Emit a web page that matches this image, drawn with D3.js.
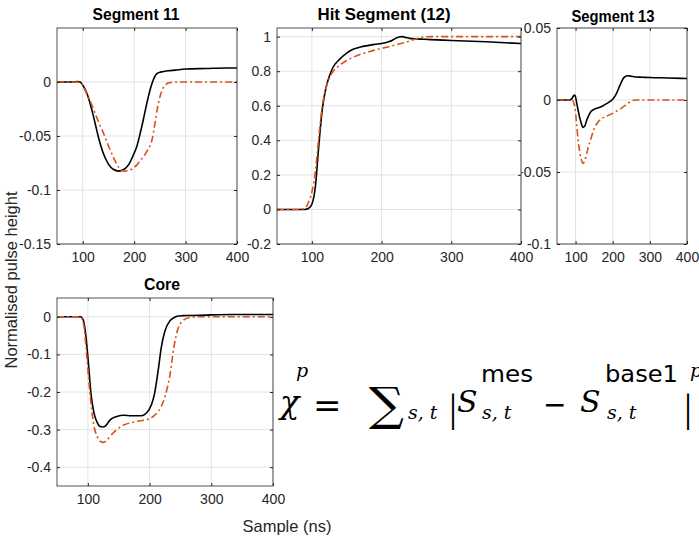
<!DOCTYPE html>
<html>
<head>
<meta charset="utf-8">
<script src="https://d3js.org/d3.v7.min.js"></script>
<style>
body { margin: 0; background: #fff; }
svg text { font-family: "Liberation Sans", Arial, sans-serif; fill: #262626; }
</style>
</head>
<body>
<div id="chart"></div>
<script>
// sample axis shared by every panel
xTicks = [100, 200, 300, 400]

// Segment 11
seg11Time = [50, 80, 90, 95, 100, 105, 110, 115, 120, 125, 130, 140, 150, 160, 170, 180, 190, 200, 205, 210, 215, 220, 225, 230, 235, 240, 245, 250, 255, 260, 270, 280, 300, 340, 380, 400]
seg11Measured = [0, 0, 0.0005, 0, -0.003, -0.007, -0.013, -0.021, -0.030, -0.040, -0.050, -0.066, -0.076, -0.081, -0.0825, -0.081, -0.076, -0.066, -0.060, -0.051, -0.041, -0.030, -0.019, -0.009, -0.001, 0.005, 0.008, 0.009, 0.0095, 0.010, 0.0105, 0.011, 0.012, 0.0125, 0.013, 0.013]
seg11Simulated = [0, 0, 0, -0.0005, -0.003, -0.008, -0.013, -0.018, -0.024, -0.030, -0.036, -0.047, -0.059, -0.070, -0.079, -0.0825, -0.082, -0.079, -0.077, -0.074, -0.071, -0.068, -0.064, -0.060, -0.053, -0.040, -0.025, -0.014, -0.007, -0.003, -0.0005, 0, 0, 0, 0, 0]
seg11Ticks = [-0.15, -0.1, -0.05, 0]

// Hit segment (12)
seg12Time = [50, 80, 90, 95, 100, 105, 110, 115, 120, 125, 130, 140, 150, 160, 170, 180, 190, 200, 210, 215, 220, 225, 230, 235, 240, 250, 260, 270, 300, 350, 400]
seg12Measured = [0, 0, 0, 0.005, 0.03, 0.13, 0.37, 0.58, 0.70, 0.77, 0.82, 0.87, 0.905, 0.928, 0.94, 0.948, 0.955, 0.96, 0.97, 0.978, 0.99, 0.998, 1.0, 0.995, 0.99, 0.987, 0.985, 0.983, 0.978, 0.97, 0.96]
seg12Simulated = [0, 0, 0.005, 0.04, 0.10, 0.22, 0.42, 0.60, 0.70, 0.76, 0.795, 0.835, 0.862, 0.882, 0.898, 0.91, 0.922, 0.932, 0.942, 0.947, 0.952, 0.957, 0.963, 0.968, 0.975, 0.988, 0.998, 1.0, 1.0, 1.0, 1.0]
seg12Ticks = [-0.2, 0, 0.2, 0.4, 0.6, 0.8, 1]

// Segment 13
seg13Time = [50, 80, 85, 90, 95, 98, 100, 103, 106, 110, 115, 120, 125, 130, 135, 140, 150, 160, 170, 180, 190, 200, 210, 220, 230, 240, 250, 260, 280, 300, 350, 400]
seg13Measured = [0, 0, 0, 0.001, 0.003, 0.0035, 0.002, -0.002, -0.006, -0.011, -0.016, -0.019, -0.018, -0.014, -0.011, -0.0085, -0.0065, -0.0055, -0.0045, -0.003, -0.0015, 0.0005, 0.0045, 0.0105, 0.0155, 0.0168, 0.0165, 0.016, 0.0158, 0.0156, 0.0153, 0.0149]
seg13Simulated = [0, 0, 0, 0, -0.002, -0.005, -0.009, -0.017, -0.026, -0.034, -0.041, -0.044, -0.042, -0.037, -0.032, -0.028, -0.020, -0.0155, -0.013, -0.0115, -0.0105, -0.0093, -0.0078, -0.0063, -0.0045, -0.0025, -0.0008, 0, 0, 0, 0, 0]
seg13Ticks = [-0.1, -0.05, 0, 0.05]

// Core
coreTime = [50, 80, 88, 93, 97, 101, 105, 110, 115, 120, 125, 130, 136, 147, 158, 170, 180, 187, 195, 203, 208, 214, 219, 225, 233, 240, 246, 254, 265, 281, 300, 335, 400]
coreMeasured = [0, 0, 0, -0.0105, -0.054, -0.125, -0.2035, -0.256, -0.281, -0.292, -0.293, -0.288, -0.274, -0.265, -0.262, -0.263, -0.263, -0.263, -0.256, -0.234, -0.205, -0.142, -0.081, -0.037, -0.0105, -0.002, 0.002, 0.003, 0.0035, 0.004, 0.005, 0.006, 0.006]
coreSimulated = [0, 0, 0, -0.019, -0.08, -0.16, -0.23, -0.291, -0.318, -0.331, -0.334, -0.330, -0.318, -0.300, -0.288, -0.282, -0.278, -0.276, -0.274, -0.268, -0.262, -0.252, -0.238, -0.212, -0.155, -0.075, -0.032, -0.0105, -0.0018, 0, 0, 0, 0]
coreTicks = [-0.4, -0.3, -0.2, -0.1, 0]

width = 699
height = 539

svg = d3.select('#chart')
    .append('svg')
    .attr('width', width)
    .attr('height', height)

// panel 13 first so that its left tick labels sit under the hit segment box
panels = [
  {title: 'Segment 13', tx: 613, ty: 22, tw: 83, left: 557, right: 687, top: 28, bottom: 244, yDomain: [-0.1, 0.05], ticks: seg13Ticks, time: seg13Time, mes: seg13Measured, sim: seg13Simulated},
  {title: 'Segment 11', tx: 136, ty: 20, tw: 87, left: 57, right: 237, top: 28, bottom: 244, yDomain: [-0.15, 0.05], ticks: seg11Ticks, time: seg11Time, mes: seg11Measured, sim: seg11Simulated},
  {title: 'Hit Segment (12)', tx: 384, ty: 20, tw: 133, left: 277, right: 521, top: 28, bottom: 244, yDomain: [-0.2, 1.05], ticks: seg12Ticks, time: seg12Time, mes: seg12Measured, sim: seg12Simulated},
  {title: 'Core', tx: 162, ty: 290, tw: 36, left: 57, right: 273, top: 298, bottom: 486, yDomain: [-0.45, 0.05], ticks: coreTicks, time: coreTime, mes: coreMeasured, sim: coreSimulated}
]

function styleAxis(a){
  a.select('.domain').remove()
  a.selectAll('line').attr('stroke', '#262626')
  a.selectAll('text')
    .attr('font-size', 14)
    .attr('font-family', '"Liberation Sans", Arial, sans-serif')
    .attr('fill', '#262626')
}

panels.forEach(function(p){
  x = d3.scaleLinear().domain([50, 400]).range([p.left, p.right])
  y = d3.scaleLinear().domain(p.yDomain).range([p.bottom, p.top])

  g = svg.append('g')

  g.append('rect')
    .attr('x', p.left).attr('y', p.top)
    .attr('width', p.right - p.left).attr('height', p.bottom - p.top)
    .attr('fill', '#fff')

  // grid
  g.selectAll('.gx').data(xTicks).enter().append('line')
    .attr('x1', d => x(d)).attr('x2', d => x(d))
    .attr('y1', p.top).attr('y2', p.bottom)
    .attr('stroke', '#e2e2e2')
  g.selectAll('.gy').data(p.ticks).enter().append('line')
    .attr('x1', p.left).attr('x2', p.right)
    .attr('y1', d => y(d)).attr('y2', d => y(d))
    .attr('stroke', '#e2e2e2')

  line = d3.line()
    .x((d, i) => x(p.time[i]))
    .y(d => y(d))
    .curve(d3.curveMonotoneX)

  g.append('path').datum(p.mes)
    .attr('d', line)
    .attr('fill', 'none')
    .attr('stroke', '#000')
    .attr('stroke-width', 1.6)

  g.append('path').datum(p.sim)
    .attr('d', line)
    .attr('fill', 'none')
    .attr('stroke', '#D95319')
    .attr('stroke-width', 1.6)
    .attr('stroke-dasharray', '7,3,2,3')

  // axes, ticks pointing inward on all sides
  g.append('g').attr('transform', 'translate(0,' + p.bottom + ')')
    .call(d3.axisBottom(x).tickValues(xTicks).tickSize(-3).tickPadding(8).tickFormat(d3.format('d')))
    .call(styleAxis)
  g.append('g').attr('transform', 'translate(0,' + p.top + ')')
    .call(d3.axisTop(x).tickValues(xTicks).tickSize(-3).tickFormat(''))
    .call(styleAxis)
  g.append('g').attr('transform', 'translate(' + p.left + ',0)')
    .call(d3.axisLeft(y).tickValues(p.ticks).tickSize(-3).tickPadding(6).tickFormat(d => String(d)))
    .call(styleAxis)
  g.append('g').attr('transform', 'translate(' + p.right + ',0)')
    .call(d3.axisRight(y).tickValues(p.ticks).tickSize(-3).tickFormat(''))
    .call(styleAxis)

  g.append('rect')
    .attr('x', p.left).attr('y', p.top)
    .attr('width', p.right - p.left).attr('height', p.bottom - p.top)
    .attr('fill', 'none')
    .attr('stroke', '#262626')
    .attr('stroke-width', 0.8)

  g.append('text')
    .attr('x', p.tx - p.tw / 2).attr('y', p.ty)
    .attr('font-size', 17)
    .attr('font-weight', 'bold')
    .attr('textLength', p.tw)
    .attr('lengthAdjust', 'spacingAndGlyphs')
    .style('fill', '#000')
    .text(p.title)
})

svg.append('text')
  .attr('transform', 'translate(17,280) rotate(-90)')
  .attr('text-anchor', 'middle')
  .attr('font-size', 16.5)
  .text('Normalised pulse height')

svg.append('text')
  .attr('x', 287).attr('y', 532)
  .attr('text-anchor', 'middle')
  .attr('font-size', 16.5)
  .text('Sample (ns)')

// chi-square formula; its last exponent runs off the right edge as in the original
serifItalic = '"DejaVu Serif", serif'
formula = [
  {t: '\u03C7', x: 280, y: 413, size: 32, font: serifItalic, italic: true},
  {t: 'p', x: 296, y: 377, size: 19, font: serifItalic, italic: true},
  {t: '=', x: 313, y: 417, size: 34, font: '"DejaVu Sans"'},
  {t: '\u2211', x: 369, y: 420, size: 46, font: '"DejaVu Serif"', w: 35},
  {t: 's, t', x: 408, y: 419, size: 19, font: serifItalic, italic: true},
  {t: '|', x: 449, y: 421, size: 40, font: '"Liberation Serif"'},
  {t: 'S', x: 457, y: 412, size: 30, font: serifItalic, italic: true},
  {t: 'mes', x: 481, y: 382, size: 23, font: '"DejaVu Sans"', w: 52},
  {t: 's, t', x: 482, y: 419, size: 19, font: serifItalic, italic: true},
  {t: '\u2212', x: 543, y: 414, size: 28, font: '"DejaVu Sans"'},
  {t: 'S', x: 580, y: 412, size: 30, font: serifItalic, italic: true},
  {t: 'base1', x: 605, y: 382, size: 23, font: '"DejaVu Sans"', w: 73},
  {t: 's, t', x: 607, y: 419, size: 19, font: serifItalic, italic: true},
  {t: '|', x: 684, y: 421, size: 40, font: '"Liberation Serif"'},
  {t: 'p', x: 690, y: 377, size: 19, font: serifItalic, italic: true}
]

ft = svg.append('g').selectAll('text')
  .data(formula).enter().append('text')
  .attr('x', d => d.x).attr('y', d => d.y)
  .attr('font-size', d => d.size)
  .attr('font-style', d => d.italic ? 'italic' : 'normal')
  .style('font-family', d => d.font)
  .style('fill', '#000')
  .text(d => d.t)
ft.filter(d => d.w)
  .attr('textLength', d => d.w)
  .attr('lengthAdjust', 'spacingAndGlyphs')
</script>
</body>
</html>
